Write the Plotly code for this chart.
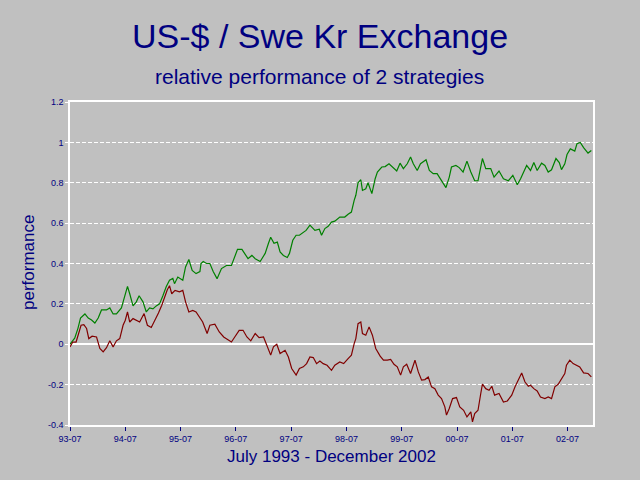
import plotly.graph_objects as go

# Time in decimal years, values as relative performance
green_t = [1993.50, 1993.585, 1993.645, 1993.69, 1993.77, 1993.83, 1993.89, 1993.95, 1994.01, 1994.07,
           1994.16, 1994.22, 1994.28, 1994.34, 1994.43, 1994.49, 1994.54, 1994.58, 1994.64, 1994.70,
           1994.75, 1994.82, 1994.88, 1994.94, 1995.00, 1995.06, 1995.12, 1995.18, 1995.24, 1995.30,
           1995.36, 1995.39, 1995.45, 1995.54, 1995.59, 1995.65, 1995.71, 1995.78, 1995.85, 1995.87,
           1995.91, 1995.97, 1996.03, 1996.09, 1996.16, 1996.24, 1996.33, 1996.42, 1996.48, 1996.53,
           1996.61, 1996.66, 1996.72, 1996.79, 1996.85, 1996.94, 1997.03, 1997.09, 1997.13, 1997.19,
           1997.25, 1997.30, 1997.36, 1997.43, 1997.47, 1997.53, 1997.59, 1997.65, 1997.72, 1997.77,
           1997.84, 1997.93, 1998.01, 1998.05, 1998.11, 1998.17, 1998.23, 1998.29, 1998.38, 1998.47,
           1998.53, 1998.59, 1998.64, 1998.67, 1998.71, 1998.76, 1998.79, 1998.85, 1998.89, 1998.96,
           1999.02, 1999.06, 1999.14, 1999.20, 1999.27, 1999.35, 1999.41, 1999.47, 1999.53, 1999.60,
           1999.66, 1999.71, 1999.78, 1999.84, 1999.94, 2000.00, 2000.07, 2000.14, 2000.22, 2000.30,
           2000.36, 2000.40, 2000.48, 2000.54, 2000.61, 2000.68, 2000.75, 2000.82, 2000.88, 2000.93,
           2000.96, 2001.02, 2001.11, 2001.17, 2001.26, 2001.34, 2001.43, 2001.51, 2001.59, 2001.65,
           2001.71, 2001.76, 2001.83, 2001.89, 2001.95, 2002.03, 2002.09, 2002.15, 2002.21, 2002.29,
           2002.35, 2002.39, 2002.45, 2002.49, 2002.55, 2002.63, 2002.67, 2002.73, 2002.79, 2002.87,
           2002.93]
green_v = [0.00, 0.03, 0.08, 0.13, 0.15, 0.13, 0.12, 0.105, 0.13, 0.17,
           0.17, 0.18, 0.15, 0.15, 0.18, 0.235, 0.287, 0.25, 0.19, 0.21,
           0.24, 0.21, 0.16, 0.18, 0.175, 0.19, 0.20, 0.24, 0.285, 0.317,
           0.326, 0.30, 0.333, 0.317, 0.383, 0.42, 0.366, 0.35, 0.36, 0.40,
           0.41, 0.40, 0.40, 0.36, 0.325, 0.375, 0.39, 0.39, 0.43, 0.47,
           0.47, 0.45, 0.424, 0.44, 0.424, 0.41, 0.45, 0.50, 0.53, 0.50,
           0.506, 0.457, 0.44, 0.43, 0.45, 0.515, 0.54, 0.54, 0.556, 0.564,
           0.59, 0.564, 0.57, 0.54, 0.573, 0.584, 0.605, 0.61, 0.63, 0.63,
           0.644, 0.655, 0.713, 0.738, 0.80, 0.815, 0.762, 0.77, 0.80, 0.746,
           0.82, 0.853, 0.878, 0.88, 0.894, 0.875, 0.858, 0.897, 0.87, 0.894,
           0.928, 0.894, 0.861, 0.894, 0.914, 0.861, 0.845, 0.845, 0.81, 0.776,
           0.828, 0.878, 0.886, 0.875, 0.853, 0.907, 0.853, 0.81, 0.81, 0.878,
           0.92, 0.87, 0.87, 0.828, 0.858, 0.82, 0.81, 0.837, 0.79, 0.82,
           0.861, 0.886, 0.861, 0.90, 0.861, 0.897, 0.886, 0.853, 0.864, 0.92,
           0.90, 0.865, 0.894, 0.94, 0.968, 0.957, 0.993, 1.00, 0.974, 0.947,
           0.96]

red_t = [1993.50, 1993.55, 1993.61, 1993.66, 1993.70, 1993.75, 1993.80, 1993.84, 1993.90, 1993.98,
         1994.04, 1994.10, 1994.16, 1994.22, 1994.28, 1994.34, 1994.40, 1994.46, 1994.50, 1994.54,
         1994.58, 1994.64, 1994.70, 1994.76, 1994.84, 1994.90, 1994.97, 1995.04, 1995.10, 1995.16,
         1995.21, 1995.26, 1995.30, 1995.34, 1995.40, 1995.48, 1995.54, 1995.59, 1995.65, 1995.72,
         1995.78, 1995.85, 1995.90, 1995.98, 1996.03, 1996.12, 1996.20, 1996.28, 1996.36, 1996.42,
         1996.48, 1996.56, 1996.63, 1996.70, 1996.77, 1996.85, 1996.92, 1997.00, 1997.06, 1997.13,
         1997.18, 1997.24, 1997.30, 1997.39, 1997.45, 1997.51, 1997.59, 1997.65, 1997.72, 1997.78,
         1997.84, 1997.90, 1997.96, 1998.02, 1998.08, 1998.15, 1998.23, 1998.29, 1998.38, 1998.45,
         1998.53, 1998.59, 1998.64, 1998.67, 1998.71, 1998.76, 1998.79, 1998.85, 1998.91, 1998.97,
         1999.03, 1999.11, 1999.17, 1999.24, 1999.30, 1999.36, 1999.42, 1999.48, 1999.53, 1999.59,
         1999.66, 1999.74, 1999.80, 1999.86, 1999.92, 1999.98, 2000.04, 2000.10, 2000.16, 2000.22,
         2000.28, 2000.31, 2000.36, 2000.42, 2000.49, 2000.55, 2000.62, 2000.68, 2000.75, 2000.78,
         2000.82, 2000.88, 2000.93, 2000.96, 2001.02, 2001.08, 2001.13, 2001.18, 2001.26, 2001.34,
         2001.41, 2001.49, 2001.55, 2001.61, 2001.67, 2001.73, 2001.79, 2001.83, 2001.89, 2001.95,
         2002.01, 2002.09, 2002.15, 2002.21, 2002.27, 2002.33, 2002.39, 2002.45, 2002.48, 2002.54,
         2002.60, 2002.66, 2002.72, 2002.79, 2002.87, 2002.93]
red_v = [-0.013, 0.011, 0.011, 0.06, 0.094, 0.097, 0.078, 0.028, 0.04, 0.036,
         -0.021, -0.038, -0.017, 0.017, -0.013, 0.017, 0.028, 0.094, 0.119, 0.16,
         0.11, 0.127, 0.119, 0.11, 0.152, 0.094, 0.083, 0.119, 0.155, 0.193,
         0.234, 0.27, 0.29, 0.25, 0.267, 0.26, 0.267, 0.21, 0.16, 0.168,
         0.16, 0.127, 0.11, 0.053, 0.094, 0.099, 0.061, 0.036, 0.02, 0.011,
         0.036, 0.069, 0.069, 0.036, 0.017, 0.053, 0.033, 0.036, -0.005, -0.054,
         -0.013, 0.0, -0.046, -0.03, -0.063, -0.12, -0.153, -0.12, -0.112, -0.096,
         -0.063, -0.066, -0.096, -0.083, -0.096, -0.104, -0.129, -0.104, -0.088, -0.096,
         -0.071, -0.054, 0.003, 0.028, 0.102, 0.11, 0.053, 0.045, 0.086, 0.045,
         -0.021, -0.059, -0.079, -0.079, -0.075, -0.099, -0.112, -0.153, -0.112, -0.099,
         -0.145, -0.079, -0.137, -0.178, -0.175, -0.162, -0.211, -0.22, -0.252, -0.269,
         -0.31, -0.351, -0.318, -0.269, -0.264, -0.31, -0.327, -0.36, -0.335, -0.385,
         -0.343, -0.327, -0.244, -0.198, -0.22, -0.228, -0.208, -0.252, -0.244, -0.286,
         -0.281, -0.252, -0.211, -0.178, -0.142, -0.187, -0.208, -0.203, -0.22, -0.231,
         -0.261, -0.269, -0.261, -0.269, -0.211, -0.198, -0.17, -0.145, -0.104, -0.079,
         -0.096, -0.104, -0.112, -0.142, -0.145, -0.162]

x_tick_vals = [1993.5, 1994.5, 1995.5, 1996.5, 1997.5, 1998.5, 1999.5, 2000.5, 2001.5, 2002.5]
x_tick_text = ["93-07", "94-07", "95-07", "96-07", "97-07", "98-07", "99-07", "00-07", "01-07", "02-07"]
y_tick_vals = [-0.4, -0.2, 0, 0.2, 0.4, 0.6, 0.8, 1.0, 1.2]
y_tick_text = ["-0.4", "-0.2", "0", "0.2", "0.4", "0.6", "0.8", "1", "1.2"]

NAVY = "#000080"
BG = "#C0C0C0"
FONT = "Liberation Sans, Arial, sans-serif"

fig = go.Figure()
fig.add_trace(go.Scatter(x=green_t, y=green_v, mode="lines",
                         line=dict(color="#008000", width=1.2), showlegend=False))
fig.add_trace(go.Scatter(x=red_t, y=red_v, mode="lines",
                         line=dict(color="#800000", width=1.2), showlegend=False))

fig.update_layout(
    width=640, height=480,
    paper_bgcolor=BG, plot_bgcolor=BG,
    margin=dict(l=70, r=47, t=102, b=55),
    font=dict(family=FONT, color=NAVY),
    xaxis=dict(range=[1993.5, 2002.96], tickvals=x_tick_vals, ticktext=x_tick_text,
               showgrid=False, zeroline=False, showline=True, linecolor="white", linewidth=1.5,
               mirror=True, ticks="outside", ticklen=4, tickcolor=NAVY, tickwidth=1,
               tickfont=dict(size=9, color=NAVY, family=FONT)),
    yaxis=dict(range=[-0.4, 1.2], tickvals=y_tick_vals, ticktext=y_tick_text,
               showgrid=True, gridcolor="white", griddash="4px,2px", gridwidth=1,
               zeroline=True, zerolinecolor="white", zerolinewidth=1.5,
               showline=True, linecolor="white", linewidth=1.5, mirror=True,
               ticks="outside", ticklen=3, tickcolor="white",
               tickfont=dict(size=9, color=NAVY, family=FONT)),
    annotations=[
        dict(text="US-$ / Swe Kr Exchange", xref="paper", yref="paper", x=0.478, y=1.205,
             xanchor="center", yanchor="middle", showarrow=False,
             font=dict(size=34, color=NAVY, family=FONT)),
        dict(text="relative performance of 2 strategies", xref="paper", yref="paper",
             x=0.478, y=1.08, xanchor="center", yanchor="middle", showarrow=False,
             font=dict(size=21, color=NAVY, family=FONT)),
        dict(text="July 1993 - December 2002", xref="paper", yref="paper", x=0.5, y=-0.096,
             xanchor="center", yanchor="middle", showarrow=False,
             font=dict(size=17, color=NAVY, family=FONT)),
        dict(text="performance", xref="paper", yref="paper", x=-0.0803, y=0.5015,
             xanchor="center", yanchor="middle", showarrow=False, textangle=-90,
             font=dict(size=17, color=NAVY, family=FONT)),
    ],
)

fig.write_html(
    "out.html",
    config={"displayModeBar": False},
    post_script="document.body.style.margin='0';document.body.style.background='#C0C0C0';",
)
